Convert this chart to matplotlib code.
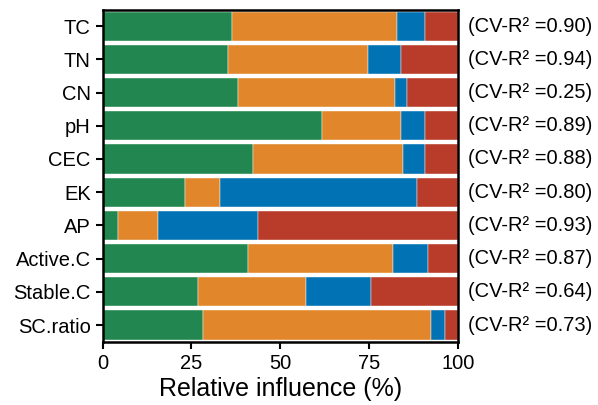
import numpy as np
import matplotlib.pyplot as plt

plt.rcParams['font.family'] = ['Liberation Sans', 'DejaVu Sans']

# soil properties, top to bottom
props = ['TC', 'TN', 'CN', 'pH', 'CEC', 'EK', 'AP', 'Active.C', 'Stable.C', 'SC.ratio']
cv_r2 = ['0.90', '0.94', '0.25', '0.89', '0.88', '0.80', '0.93', '0.87', '0.64', '0.73']

# relative influence (%) of the four predictor groups
grp1 = [36.4, 35.4, 38.2, 61.9, 42.3, 23.2, 4.3, 40.8, 26.8, 28.3]
grp2 = [46.5, 39.3, 44.1, 22.0, 42.4, 9.8, 11.4, 41.0, 30.5, 64.2]
grp3 = [7.8, 9.3, 3.5, 6.8, 6.2, 55.5, 28.0, 9.9, 18.4, 4.0]
grp4 = [9.3, 16.0, 14.2, 9.3, 9.1, 11.5, 56.3, 8.3, 24.3, 3.5]

colors = ['#21864F', '#E1862A', '#0172B3', '#B93B29']

fig = plt.figure(figsize=(5.98, 4.05), dpi=100)
ax = fig.add_axes([0.1717, 0.1563, 0.5937, 0.8202])

y = np.arange(len(props))
left = np.zeros(len(props))
for vals, c in zip([grp1, grp2, grp3, grp4], colors):
    vals = np.array(vals)
    ax.barh(y, vals, left=left, height=0.88, color=c, edgecolor='white', linewidth=0.3)
    left += vals

ax.set_xlim(0, 100)
ax.set_ylim(len(props) - 0.5, -0.5)
ax.set_yticks(y)
ax.set_yticklabels(props, fontsize=14.5)
ax.set_xticks([0, 25, 50, 75, 100])
ax.tick_params(axis='x', labelsize=14.5, width=1.5, length=5)
ax.tick_params(axis='y', width=1.5, length=5)
ax.set_xlabel('Relative influence (%)', fontsize=18, labelpad=3)
for s in ax.spines.values():
    s.set_linewidth(1.8)

for i, r in enumerate(cv_r2):
    ax.text(1.03, i, '(CV-R\u00b2 =' + r + ')', transform=ax.get_yaxis_transform(),
            ha='left', va='center', fontsize=14.5)

fig.savefig('out.png', dpi=100)
